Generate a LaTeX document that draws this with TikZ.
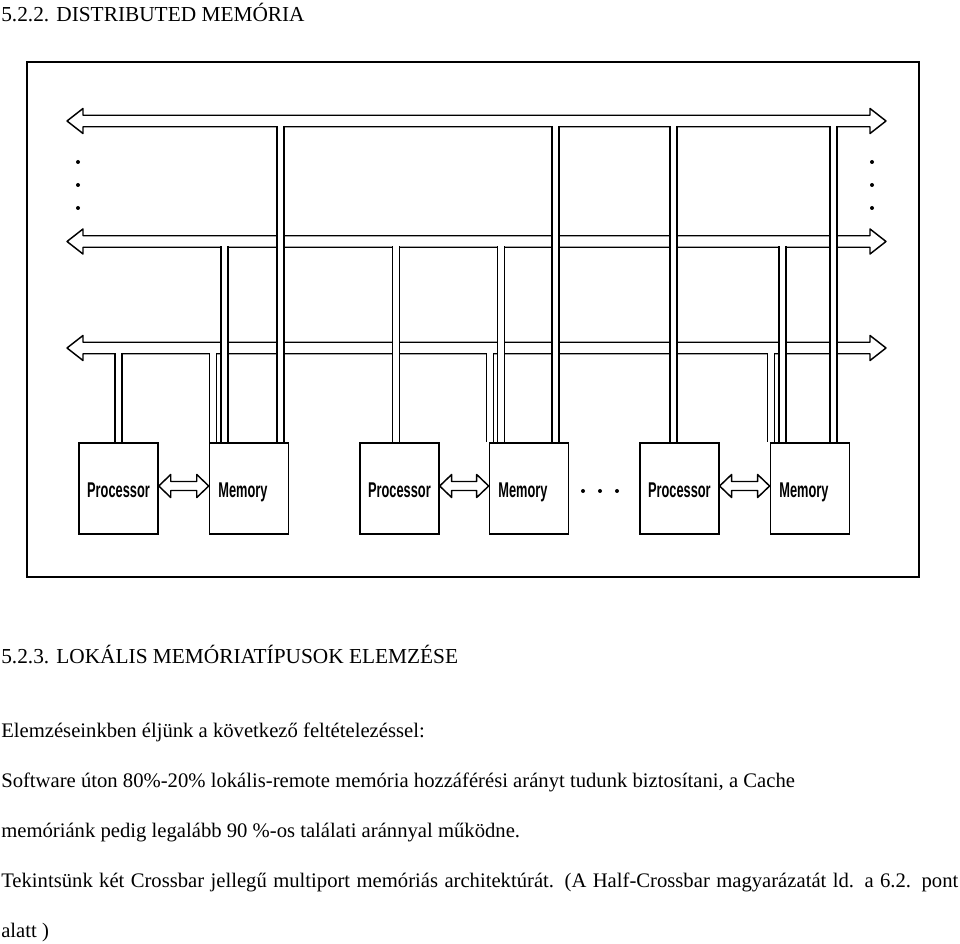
\documentclass[tikz,border=0pt]{standalone}
\usepackage{fontspec}
\setmainfont{Liberation Serif}
\newfontfamily\plotfont{Liberation Sans}[FakeStretch=0.6]
\usetikzlibrary{positioning,calc}

% hollow two-headed link between a processor and its memory
\newcommand{\pmlink}[2]{%
  \draw[link] ($(#1.east)+(0,-2.5)$) -- ($(#1.east)+(12,-14)$) -- ($(#1.east)+(12,-7)$)
    -- ($(#2.west)+(-12,-7)$) -- ($(#2.west)+(-12,-14)$) -- ($(#2.west)+(0,-2.5)$)
    -- ($(#2.west)+(-12,9)$) -- ($(#2.west)+(-12,2)$) -- ($(#1.east)+(12,2)$)
    -- ($(#1.east)+(12,9)$) -- cycle;}

\begin{document}
\begin{tikzpicture}[x=0.75pt,y=-0.75pt,
    bus/.style={line width=1.1pt,line join=round},
    chan/.style={double,double distance=4.15pt,line width=1.1pt,shorten >=0.55pt},
    link/.style={line width=1.1pt,line join=round},
    box/.style={draw,line width=1.1pt,minimum width=59.25pt,minimum height=68.25pt,
                inner sep=0pt,text height=16.5pt,text depth=3pt,
                font=\plotfont\bfseries\fontsize{16}{18}\selectfont},
    proc/.style={box},
    mem/.style={box,text width=45.75pt,align=left},
    txt/.style={anchor=base west,inner sep=0pt,font=\fontsize{15.5}{18}\selectfont},
    head/.style={txt,font=\fontsize{16}{19}\selectfont}]
    \useasboundingbox (0,0) rectangle (960,944);

    \node[head] (title) at (1,22) {5.2.2. DISTRIBUTED MEMÓRIA};
    \draw[line width=1.4pt] (27,62) rectangle (919,577);

    \foreach \c [count=\i] in {121,241.5,348}{
        \draw[bus] (67,\c) -- (83,\c-12.5) -- (83,\c-5.75) -- (870,\c-5.75) -- (870,\c-12.5)
            -- (886,\c) -- (870,\c+12.5) -- (870,\c+5.75) -- (83,\c+5.75) -- (83,\c+12.5) -- cycle;
        \coordinate (bus\i) at (476,\c+5);
    }
    \foreach \y in {162,185,208}{
        \fill (78,\y) circle (1.5pt);
        \fill (872,\y) circle (1.5pt);
    }

    \node[proc] (p1) at (118.5,488.5) {Processor};
    \node[mem,right=37.5pt of p1] (m1) {Memory};
    \node[proc,right=52.5pt of m1] (p2) {Processor};
    \node[mem,right=36.75pt of p2] (m2) {Memory};
    \node[proc,right=52.5pt of m2] (p3) {Processor};
    \node[mem,right=37.5pt of p3] (m3) {Memory};

    \foreach \x/\b/\n in {118.5/3/p1,213/3/m1,224.5/2/m1,280.5/1/m1,
                          396/2/p2,490/3/m2,501/2/m2,555.5/1/m2,
                          673.5/1/p3,771/3/m3,782.5/2/m3,833.5/1/m3}
        \draw[chan] (\x,0 |- bus\b) -- (\x,0 |- \n.north);

    \pmlink{p1}{m1}
    \pmlink{p2}{m2}
    \pmlink{p3}{m3}
    \foreach \x in {583,600,617}
        \fill (\x,491) circle (1.5pt);

    \node[head] (sect) at (1,663) {5.2.3. LOKÁLIS MEMÓRIATÍPUSOK ELEMZÉSE};
    \node[txt] (l1) at (1,737) {Elemzéseinkben éljünk a következő feltételezéssel:};
    \node[txt] (l2) at (1,787) {Software úton 80\%-20\% lokális-remote memória hozzáférési arányt tudunk biztosítani, a Cache};
    \node[txt] (l3) at (1,837) {memóriánk pedig legalább 90 \%-os találati aránnyal működne.};
    \node[txt] (l4) at (1,887) {\makebox[717.75pt][s]{Tekintsünk két Crossbar jellegű multiport memóriás architektúrát. (A Half-Crossbar magyarázatát ld. a 6.2. pont}};
    \node[txt] (l5) at (1,937) {alatt )};
\end{tikzpicture}
\end{document}
